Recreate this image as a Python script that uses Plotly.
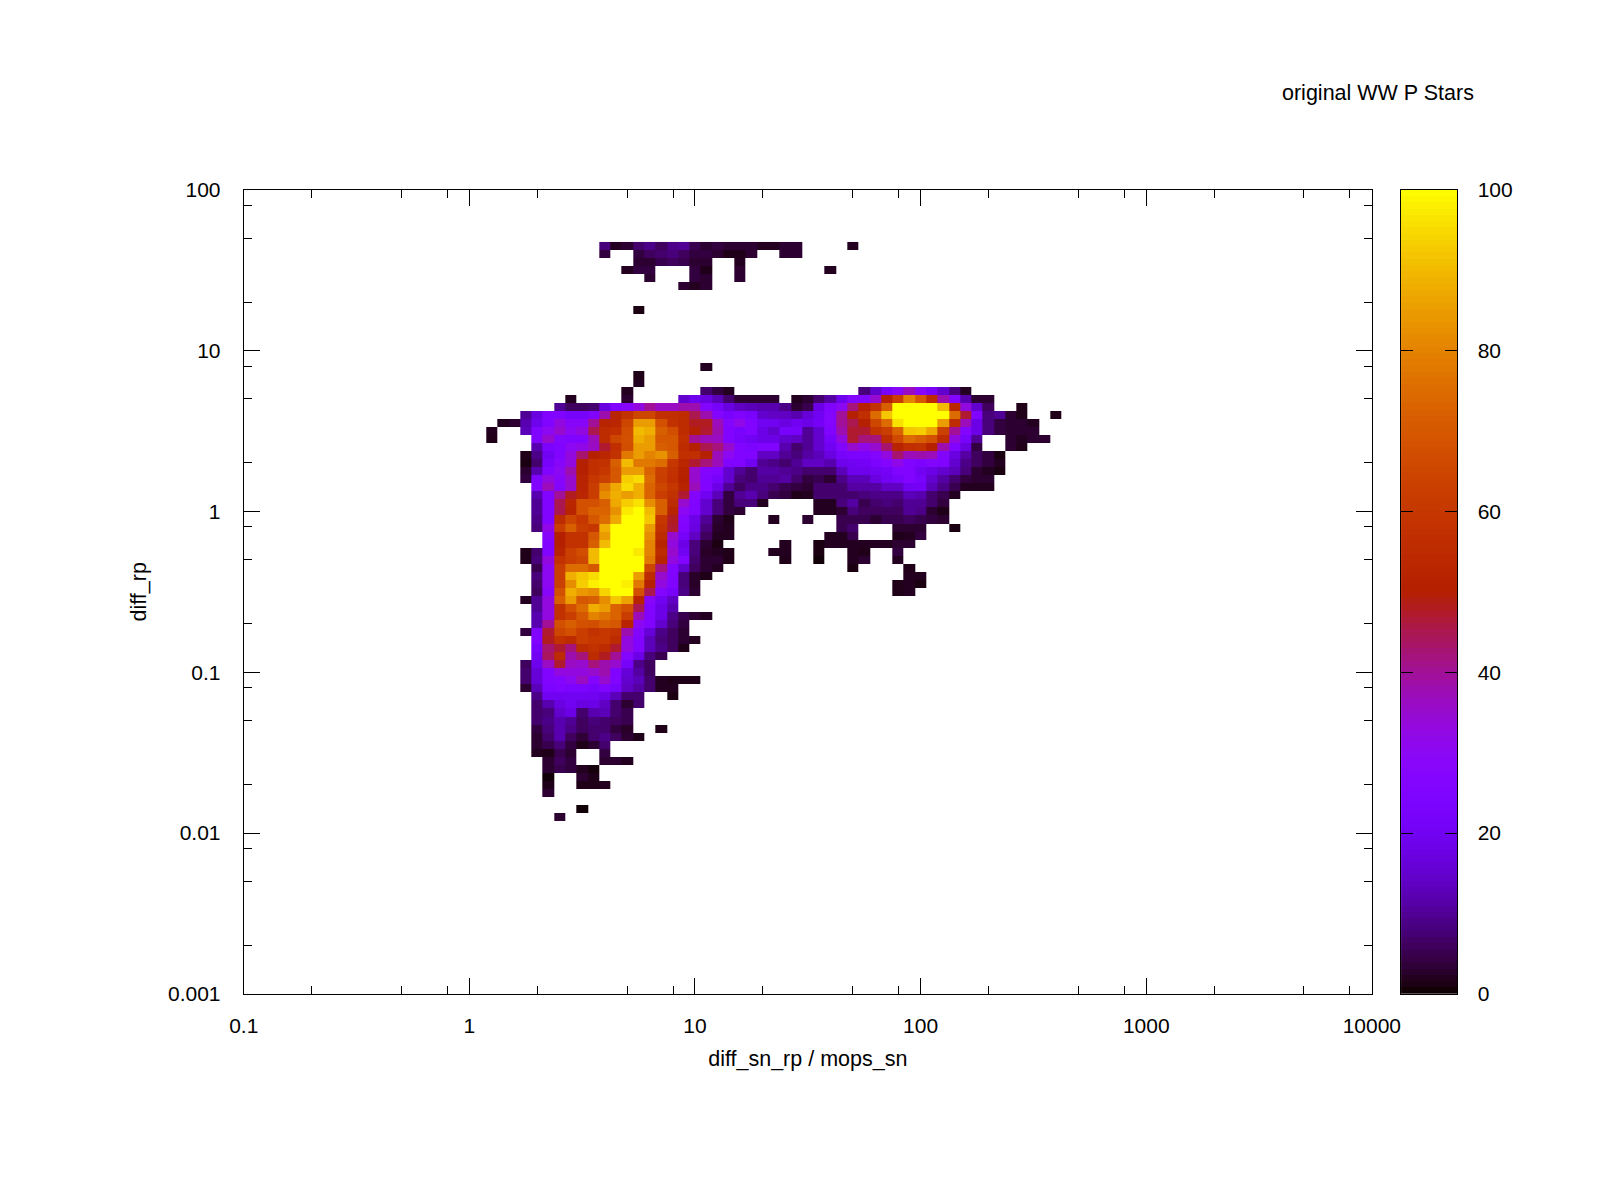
import math
import plotly.graph_objects as go
from plotly.subplots import make_subplots

_ = None

# labels
title_text = 'original WW P Stars'
x_title = 'diff_sn_rp / mops_sn'
y_title = 'diff_rp'
x_ticks = [0.1, 1, 10, 100, 1000, 10000]
x_labels = ['0.1', '1', '10', '100', '1000', '10000']
y_ticks = [0.001, 0.01, 0.1, 1, 10, 100]
y_labels = ['0.001', '0.01', '0.1', '1', '10', '100']
minor_steps = [2, 5, 8]
cbar_ticks = [0, 20, 40, 60, 80, 100]

# histogram bins, 20 per decade
bins_per_decade = 20
first_col = 22
last_col = 72
first_row = 22
last_row = 93

# values per row of the map, row number counted up from 0.001, first entry is column 22
row_22 = [_]*6 + [3]
row_23 = [_]*8 + [0.5]
row_25 = [_]*5 + [3]
row_26 = [_]*5 + [1.5, _, _, 1.5, 1.5, 2]
row_27 = [_]*5 + [0.5, _, _, 3, 1.5]
row_28 = [_]*5 + [3, 5, 4, 2, 0.7]
row_29 = [_]*5 + [3, 6, 4, _, _, 3, 3, 2]
row_30 = [_]*4 + [2, 1.5, 5, 3, _, _, 4]
row_31 = [_]*4 + [3, 5, 8, 4, 1.5, 3, 7]
row_32 = [_]*4 + [3, 7, 12, 6, 3.5, 7, 9, 6, 3, 1.5]
row_33 = [_]*4 + [4, 8, 12, 9, 6, 7, 7, 4, 2.5, _, _, 1.5]
row_34 = [_]*4 + [7, 9, 12, 10, 6, 8, 7, 6, 5]
row_35 = [_]*4 + [7, 8, 15, 18, 7, 12, 13, 7, 5]
row_36 = [_]*4 + [7, 12, 17, 20, 17, 18, 14, 7, 3, 7]
row_37 = [_]*4 + [9, 20, 20, 20, 20, 20, 18, 13, 7, 7, _, _, 1]
row_38 = [_]*3 + [3, 13, 24, 25, 24, 24, 22, 25, 22, 14, 11, 7, 2, 2]
row_39 = [_]*3 + [7, 16, 25, 27, 30, 36, 27, 35, 25, 15, 13, 7, 2, 1.5, 1.5, 1.5]
row_40 = [_]*3 + [7, 16, 25, 33, 33, 33, 35, 38, 25, 16, 11, 6]
row_41 = [_]*3 + [6, 19, 36, 47, 36, 35, 42, 38, 35, 22, 9, 6]
row_42 = [_]*4 + [20, 44, 55, 38, 42, 55, 48, 40, 27, 18, 8, 5]
row_43 = [_]*4 + [22, 43, 47, 42, 55, 58, 55, 47, 33, 25, 13, 9, 6, 1.5]
row_44 = [_]*4 + [25, 48, 58, 55, 62, 60, 60, 55, 33, 25, 13, 8, 6, 3, 2]
row_45 = [_]*3 + [4, 25, 47, 65, 68, 62, 58, 60, 58, 38, 26, 16, 9, 6, 3]
row_46 = [_]*4 + [12, 40, 68, 72, 68, 67, 72, 70, 52, 30, 25, 15, 8, 4]
row_47 = [_]*4 + [12, 33, 58, 62, 70, 80, 77, 73, 62, 37, 25, 18, 9, 5, 3, 2]
row_48 = [_]*4 + [10, 33, 58, 68, 75, 88, 85, 73, 68, 45, 25, 18, 12]
row_49 = [_]*3 + [2, 10, 33, 72, 85, 70, 72, 82, 92, 86, 52, 28, 20, 14]
row_50 = [_]*4 + [6, 28, 68, 88, 84, 82, 94, 100, 100, 68, 45, 27, 22, 9, 3] + [_]*17 + [1.5, 2]
row_51 = [_]*4 + [7, 30, 63, 82, 93, 98, 100, 100, 98, 78, 50, 33, 25, 8, 2.5] + [_]*17 + [1.5, 2, 1]
row_52 = [_]*4 + [8, 30, 62, 88, 92, 95, 100, 100, 100, 85, 55, 35, 25, 8, 2.5, 1.5] + [_]*17 + [2, 2]
row_53 = [_]*4 + [5, 30, 62, 75, 75, 70, 100, 100, 100, 100, 65, 42, 25, 15, 6, 3, 2] + [_]*11 + [1] + [_]*4 + [1.5]
row_54 = [_]*3 + [1.5, 8, 33, 58, 62, 65, 90, 100, 100, 100, 100, 78, 52, 33, 25, 7, 3, 3, 1.5] + [_]*4 + [1.5, _, _, 0.5, _, _, 2, 3, _, _, 2]
row_55 = [_]*3 + [1.5, 7, 25, 52, 63, 67, 90, 100, 100, 100, 97, 80, 55, 35, 20, 8, 2.5, 2, 1.5] + [_]*3 + [2, 2, _, _, 1, _, _, 2, 1.5, _, _, 4]
row_56 = [_]*5 + [25, 50, 58, 58, 72, 90, 100, 100, 100, 80, 52, 33, 18, 8, 3, 1] + [_]*5 + [2, _, _, 1, 2, 2, 2, 2, 2, 2, 3, 3]
row_57 = [_]*5 + [28, 50, 58, 58, 70, 85, 100, 100, 100, 82, 55, 35, 22, 14, 6, 2, 2] + [_]*8 + [2, 2, 5, _, _, _, 1.5, 2, 4]
row_58 = [_]*4 + [8, 32, 62, 72, 62, 60, 88, 100, 100, 100, 85, 58, 47, 25, 17, 8, 2.5, 2] + [_]*9 + [5, 7, _, _, _, 3, 3, 3, _, _, 1]
row_59 = [_]*4 + [9, 25, 55, 65, 60, 70, 75, 87, 100, 100, 92, 60, 48, 27, 18, 10, 3, 1.5] + [_]*3 + [2, _, _, 3, _, _, 5, 5, 5, 3, 5, 5, 6, 5, 4, 3]
row_60 = [_]*4 + [10, 25, 45, 52, 68, 73, 73, 83, 97, 100, 90, 72, 52, 30, 25, 15, 8, 4, 3] + [_]*6 + [2, 2, 3, 8, 6, 6, 6, 6, 10, 9, 3, 1.5]
row_61 = [_]*4 + [10, 25, 45, 53, 68, 68, 72, 87, 93, 96, 82, 72, 55, 35, 25, 15, 8, 4, 8, 8, 2] + [_]*4 + [2, 2, 8, 11, 5, 7, 8, 7, 10, 10, 7, 4]
row_62 = [_]*4 + [12, 25, 40, 48, 53, 62, 82, 88, 85, 88, 73, 62, 58, 47, 27, 20, 13, 4, 10, 12, 8, 5, 4, 1.5, 2, 7, 7, 7, 7, 8, 9, 9, 9, 13, 12, 7, 5, 2]
row_63 = [_]*4 + [25, 37, 27, 35, 52, 62, 78, 87, 95, 88, 73, 65, 60, 52, 37, 25, 18, 10, 6, 9, 9, 7, 5, 4, 3, 7, 7, 7, 11, 11, 11, 14, 14, 20, 21, 13, 9, 5, 2, 2, 2]
row_64 = [_]*3 + [4, 25, 33, 28, 35, 52, 60, 63, 70, 93, 95, 75, 62, 57, 50, 35, 25, 22, 15, 8, 7, 10, 10, 11, 7, 4, 5, 3, 9, 13, 13, 17, 20, 22, 25, 22, 15, 11, 7, 4, 3, 3]
row_65 = [_]*3 + [3, 12, 25, 30, 38, 50, 57, 60, 70, 85, 85, 73, 63, 58, 51, 35, 27, 25, 15, 10, 7, 11, 11, 10, 9, 7, 7, 7, 13, 19, 19, 20, 21, 25, 25, 20, 18, 15, 13, 8, 3, 2, 1]
row_66 = [_]*3 + [1, 7, 22, 28, 33, 50, 57, 58, 72, 90, 78, 78, 75, 60, 53, 47, 42, 37, 25, 25, 20, 10, 9, 7, 10, 14, 14, 12, 19, 20, 21, 24, 27, 32, 25, 24, 26, 25, 15, 9, 6, 4, 2]
row_67 = [_]*3 + [1.5, 9, 20, 25, 33, 43, 50, 53, 58, 78, 85, 80, 83, 72, 57, 57, 50, 37, 30, 25, 25, 14, 14, 10, 8, 11, 13, 17, 22, 24, 24, 27, 33, 43, 37, 38, 37, 26, 17, 11, 6, 4, 1]
row_68 = [_]*4 + [12, 24, 25, 30, 32, 36, 47, 57, 67, 85, 85, 72, 70, 55, 50, 45, 42, 35, 25, 24, 25, 25, 12, 7, 10, 15, 20, 26, 35, 32, 35, 43, 52, 57, 58, 50, 38, 25, 17, 4, _, _, 3, 1.5]
row_69 = [1.5, _, _, _, 25, 35, 26, 25, 25, 37, 55, 65, 68, 88, 85, 70, 70, 57, 40, 37, 36, 25, 22, 20, 18, 18, 15, 14, 10, 15, 22, 33, 47, 42, 42, 55, 66, 75, 72, 68, 55, 33, 22, 10, _, _, 3, 2, 3, 3]
row_70 = [2, _, _, 13, 25, 30, 35, 30, 33, 45, 55, 57, 67, 90, 88, 72, 67, 55, 50, 47, 38, 25, 23, 25, 18, 15, 22, 22, 10, 15, 25, 38, 47, 47, 58, 62, 73, 92, 93, 87, 63, 40, 27, 18, 8, 4, 3, 3, 3]
row_71 = [_, 2, 3, 12, 19, 25, 33, 28, 28, 40, 52, 53, 65, 85, 85, 68, 58, 55, 48, 48, 37, 27, 32, 25, 20, 20, 17, 20, 18, 21, 27, 40, 45, 50, 65, 75, 96, 100, 100, 100, 85, 55, 37, 18, 8, 4, 3, 3, 2]
row_72 = [_]*3 + [10, 17, 25, 25, 22, 22, 25, 38, 52, 58, 65, 65, 57, 57, 56, 45, 38, 27, 23, 25, 23, 15, 14, 14, 12, 16, 20, 27, 40, 50, 57, 75, 92, 100, 100, 100, 100, 100, 75, 47, 25, 8, 10, 3, 1.5, _, _, 1.5]
row_73 = [_]*6 + [10, 6, 6, 7, 17, 25, 28, 33, 40, 36, 36, 38, 38, 27, 22, 17, 14, 13, 12, 12, 9, 3, 5, 18, 25, 30, 42, 50, 58, 72, 100, 100, 100, 100, 90, 53, 33, 15, 6, _, _, 1.5]
row_74 = [_]*7 + [2] + [_]*4 + [3] + [_]*4 + [15, 19, 17, 13, 7, 3, 3, 3, 3, _, 2, 3, 7, 11, 19, 26, 26, 35, 50, 62, 80, 70, 55, 38, 27, 12, 3, 3]
row_75 = [_]*12 + [2] + [_]*6 + [7, 4, 2] + [_]*11 + [8, 15, 22, 28, 36, 28, 22, 15, 8, 2]
row_76 = [_]*13 + [2]
row_77 = [_]*13 + [1.5]
row_78 = [_]*19 + [2]
row_85 = [_]*13 + [1]
row_88 = [_]*17 + [3, 2, 3]
row_89 = [_]*14 + [3, _, _, _, 4, 3, _, _, 3]
row_90 = [_]*12 + [2, 4, 4, _, _, _, 4, 1.5, _, _, 3] + [_]*7 + [2]
row_91 = [_]*13 + [3, 3, 5, 6, 5, 3, 3, _, _, 2]
row_92 = [_]*10 + [4, _, _, 4, 6, 7, 8, 6, 4, 4, 3, 1.5, 1.5, 3, _, _, 3, 3]
row_93 = [_]*10 + [8, 2, 3, 7, 9, 6, 9, 10, 5, 3, 4, 3, 3, 3, 2, 2, 3, 3] + [_]*4 + [2]

n_cols = last_col - first_col + 1
z = []
for r in range(first_row, last_row + 1):
    row = globals().get('row_%d' % r, [])
    z.append(row + [None]*(n_cols - len(row)))

x = [10**(-1 + c/bins_per_decade) for c in range(first_col, last_col + 1)]
y = [10**(-3 + r/bins_per_decade) for r in range(first_row, last_row + 1)]


# gnuplot default palette (rgbformulae 7,5,15)
def palette(g):
    red = math.sqrt(g)
    green = g**3
    blue = max(0, math.sin(2*math.pi*g))
    return 'rgb(%d,%d,%d)' % (round(red*255), round(green*255), round(blue*255))


colorscale = [[i/256, palette(i/256)] for i in range(257)]

# colour box has 128 visible steps
cbar_steps = 128
cbar_edges = [100*i/cbar_steps for i in range(cbar_steps + 1)]
cbar_z = [[100*(i + 0.5)/cbar_steps] for i in range(cbar_steps)]

minor_x = [t*m for t in x_ticks[:-1] for m in minor_steps]
minor_y = [t*m for t in y_ticks[:-1] for m in minor_steps]

font = dict(family='Liberation Sans', size=21, color='black')
label_font = dict(family='Liberation Sans', size=21.5, color='black')

W, H = 1600, 1200

fig = make_subplots(rows=1, cols=2)
fig.add_trace(go.Heatmap(x=x, y=y, z=z, colorscale=colorscale, zmin=0, zmax=100,
                         showscale=False, hoverongaps=False), row=1, col=1)
fig.add_trace(go.Heatmap(x=[0, 1], y=cbar_edges, z=cbar_z, colorscale=colorscale, zmin=0, zmax=100,
                         showscale=False), row=1, col=2)

fig.update_layout(
    width=W, height=H, margin=dict(l=0, r=0, t=0, b=0),
    paper_bgcolor='white', plot_bgcolor='white', font=font, showlegend=False,
    xaxis=dict(type='log', range=[-1, 4], domain=[227/W, 1387/W], anchor='y',
               tickmode='array', tickvals=x_ticks, ticktext=x_labels, ticks='inside', ticklen=16,
               tickwidth=1, tickcolor='black', showline=True, linecolor='black', linewidth=1,
               mirror='ticks', showgrid=False, zeroline=False, ticklabelstandoff=13, tickangle=0,
               minor=dict(tickmode='array', tickvals=minor_x, ticks='inside', ticklen=8, tickwidth=1,
                          tickcolor='black', showgrid=False),
               title=dict(text=x_title, standoff=14, font=label_font)),
    yaxis=dict(type='log', range=[-3, 2], domain=[1 - 993/H, 1 - 173/H], anchor='x',
               tickmode='array', tickvals=y_ticks, ticktext=y_labels, ticks='inside', ticklen=16,
               tickwidth=1, tickcolor='black', showline=True, linecolor='black', linewidth=1,
               mirror='ticks', showgrid=False, zeroline=False, ticklabelstandoff=18,
               minor=dict(tickmode='array', tickvals=minor_y, ticks='inside', ticklen=8, tickwidth=1,
                          tickcolor='black', showgrid=False),
               title=dict(text=y_title, standoff=15, font=label_font)),
    xaxis2=dict(range=[0, 1], domain=[1417/W, 1475/W], anchor='y2', showticklabels=False,
                ticks='', showline=True, linecolor='black', linewidth=1, mirror=True, showgrid=False,
                zeroline=False),
    yaxis2=dict(range=[0, 100], domain=[1 - 993/H, 1 - 173/H], anchor='x2', side='right',
                tickmode='array', tickvals=cbar_ticks, ticks='inside', ticklen=12, tickwidth=1,
                tickcolor='black', showline=True, linecolor='black', linewidth=1, mirror='ticks',
                showgrid=False, zeroline=False, ticklabelstandoff=15),
    annotations=[dict(text=title_text, xref='paper', yref='paper', x=1494/W, y=1 - 74/H,
                      xanchor='right', yanchor='middle', showarrow=False, font=label_font)],
)

fig.write_html("out.html")
